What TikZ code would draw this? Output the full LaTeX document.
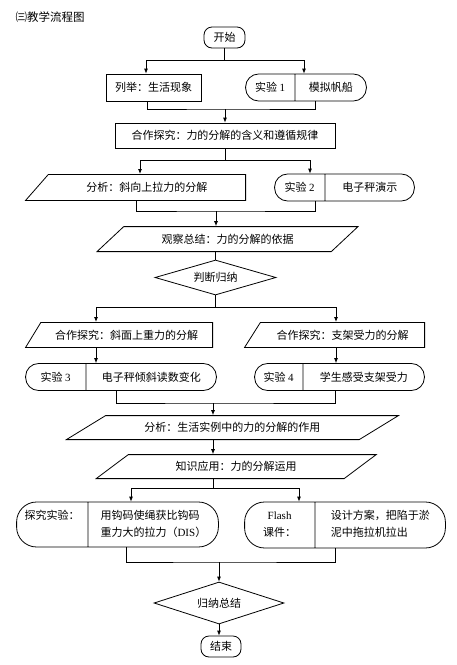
\documentclass[tikz,border=0pt]{standalone}
\usepackage{fontspec}
\setmainfont{Liberation Serif}
\newfontfamily\cjk{Noto Sans CJK SC}
\usetikzlibrary{shapes.geometric, shapes.multipart, arrows.meta, calc}
\tikzstyle{process} = [rectangle, draw=black, minimum height=27pt, inner sep=2pt]
\tikzstyle{terminal} = [rectangle, rounded corners=8pt, draw=black, minimum width=41pt, minimum height=21pt, inner sep=2pt]
\tikzstyle{expbox} = [draw=black, rectangle split, rectangle split horizontal, rectangle split parts=2, rounded corners=13pt, inner xsep=0pt, inner ysep=0pt, minimum height=27pt]
\tikzstyle{halfslant} = [trapezium, draw=black, trapezium right angle=90, trapezium stretches body, minimum height=25pt, inner sep=2pt]
\tikzstyle{slant} = [trapezium, draw=black, trapezium stretches body, inner sep=2pt]
\tikzstyle{decision} = [diamond, draw=black, aspect=3.4, inner sep=0pt]
\tikzstyle{arrow} = [-{Latex[length=5pt,width=4pt]}]
\renewcommand\arraystretch{1.3}

\begin{document}
\begin{tikzpicture}[x=1pt, y=-1pt, line width=0.8pt, every node/.style={font=\cjk\fontsize{11}{13}\selectfont}]
\useasboundingbox (0,0) rectangle (456,665);

% Title
\node (title) [anchor=west, font=\cjk\fontsize{11.5}{13}\selectfont] at (12,17) {㈢教学流程图};

% Start
\node (start) [terminal] at (224.5,37.5) {开始};
\node (list) [process, minimum width=95pt] at (153.5,87.5) {列举：生活现象};
\node (exp1) [expbox] at (306,87.5) {\makebox[49pt]{实验 {\rmfamily 1}}\nodepart{two}\makebox[71pt]{模拟帆船}};

% Cooperation
\node (coop) [process, minimum width=220pt, minimum height=25pt] at (225,135.5) {合作探究：力的分解的含义和遵循规律};
\node (ana1) [halfslant, trapezium left angle=32, minimum width=220pt, minimum height=26pt, anchor=top right corner] at (246,174) {分析：斜向上拉力的分解};
\node (exp2) [expbox] at (344.5,187.5) {\makebox[50pt]{实验 {\rmfamily 2}}\nodepart{two}\makebox[89pt]{电子秤演示}};
\node (obs) [slant, trapezium left angle=28, trapezium right angle=152, minimum width=261pt, minimum height=25pt, anchor=bottom left corner] at (96,252) {观察总结：力的分解的依据};
\node (judge) [decision, minimum width=121pt, minimum height=35pt] at (215.5,277.5) {判断归纳};

% Two branches
\node (coop2) [halfslant, trapezium left angle=43, minimum width=187pt, anchor=top right corner] at (213,322) {合作探究：斜面上重力的分解};
\node (coop3) [halfslant, trapezium left angle=42, minimum width=180pt, anchor=top right corner] at (425,322) {合作探究：支架受力的分解};
\node (exp3) [expbox] at (121,377) {\makebox[60pt]{实验 {\rmfamily 3}}\nodepart{two}\makebox[130pt]{电子秤倾斜读数变化}};
\node (exp4) [expbox] at (339.5,377) {\makebox[48pt]{实验 {\rmfamily 4}}\nodepart{two}\makebox[121pt]{学生感受支架受力}};

% Application
\node (ana2) [slant, trapezium left angle=20, trapezium right angle=160, minimum width=332pt, minimum height=24pt, anchor=bottom left corner] at (65,440) {分析：生活实例中的力的分解的作用};
\node (know) [slant, trapezium left angle=24, trapezium right angle=156, minimum width=280pt, minimum height=24pt, anchor=bottom left corner] at (95,479) {知识应用：力的分解运用};
\node (inq) [expbox, rounded corners=20pt, minimum height=45pt, inner ysep=5pt] at (117.5,524.5) {\makebox[71pt]{\begin{tabular}[t]{@{}c@{}}探究实验：\\ \mbox{}\end{tabular}}\nodepart{two}\makebox[130pt]{\begin{tabular}[t]{@{}l@{}}用钩码使绳获比钩码\\重力大的拉力（{\rmfamily DIS}）\end{tabular}}};
\node (flash) [expbox, rounded corners=20pt, minimum height=46pt, inner ysep=5pt] at (345,525) {\makebox[70pt]{\begin{tabular}[t]{@{}c@{}}{\rmfamily Flash}\\课件：\end{tabular}}\nodepart{two}\makebox[130pt]{\begin{tabular}[t]{@{}l@{}}设计方案，把陷于淤\\泥中拖拉机拉出\end{tabular}}};

% End
\node (sum) [decision, minimum width=130pt, minimum height=42pt] at (219,603) {归纳总结};
\node (end) [terminal, minimum width=40pt] at (221,646.5) {结束};

% Junctions
\coordinate (j1) at (224.5,60);
\coordinate (m1) at (225,109);
\coordinate (j2) at (225,160);
\coordinate (m2) at (216,211);
\coordinate (j3) at (215.5,307);
\coordinate (c2) at ([xshift=-117pt]coop2.bottom right corner);
\coordinate (c3) at ([xshift=-89pt]coop3.bottom right corner);
\coordinate (m3) at (213,403);
\coordinate (j4) at (213,488);
\coordinate (m4) at (219,562);

% Arrows
\draw (start.south) -- (j1);
\draw [arrow] (j1) -| ([xshift=-7.5pt]list.north);
\draw [arrow] (j1) -| ([xshift=-2pt]exp1.north);
\draw ([xshift=-6.5pt]list.south) |- (m1) -| ([xshift=9pt]exp1.south);
\draw [arrow] (m1) -- (coop.north);

\draw (coop.south) -- (j2);
\draw [arrow] (j2) -| ([xshift=-106pt]ana1.top right corner);
\draw [arrow] (j2) -| ([xshift=-34.5pt]exp2.north);
\draw ([xshift=-110pt]ana1.bottom right corner) |- (m2) -| ([xshift=-29.5pt]exp2.south);
\draw [arrow] (m2) -- (m2 |- obs.north);
\draw (obs.south -| judge.north) -- (judge.north);

\draw (judge.south) -- (j3);
\draw [arrow] (j3) -| ([xshift=-117pt]coop2.top right corner);
\draw [arrow] (j3) -| ([xshift=-89pt]coop3.top right corner);
\draw [arrow] (c2) -- (c2 |- exp3.north);
\draw [arrow] (c3) -- (c3 |- exp4.north);
\draw ([xshift=-5pt]exp3.south) |- (m3) -| ([xshift=-4.5pt]exp4.south);
\draw [arrow] (m3) -- (m3 |- ana2.north);
\draw [arrow] (m3 |- ana2.south) -- (m3 |- know.north);

\draw (j4 |- know.south) -- (j4);
\draw [arrow] (j4) -| ([xshift=13.5pt]inq.north);
\draw [arrow] (j4) -| ([xshift=-46pt]flash.north);
\draw ([xshift=8.5pt]inq.south) |- (m4) -| ([xshift=-10pt]flash.south);
\draw [arrow] (m4) -- (sum.north);
\draw [arrow] (sum.south) -- (sum.south |- end.north);

\end{tikzpicture}
\end{document}
